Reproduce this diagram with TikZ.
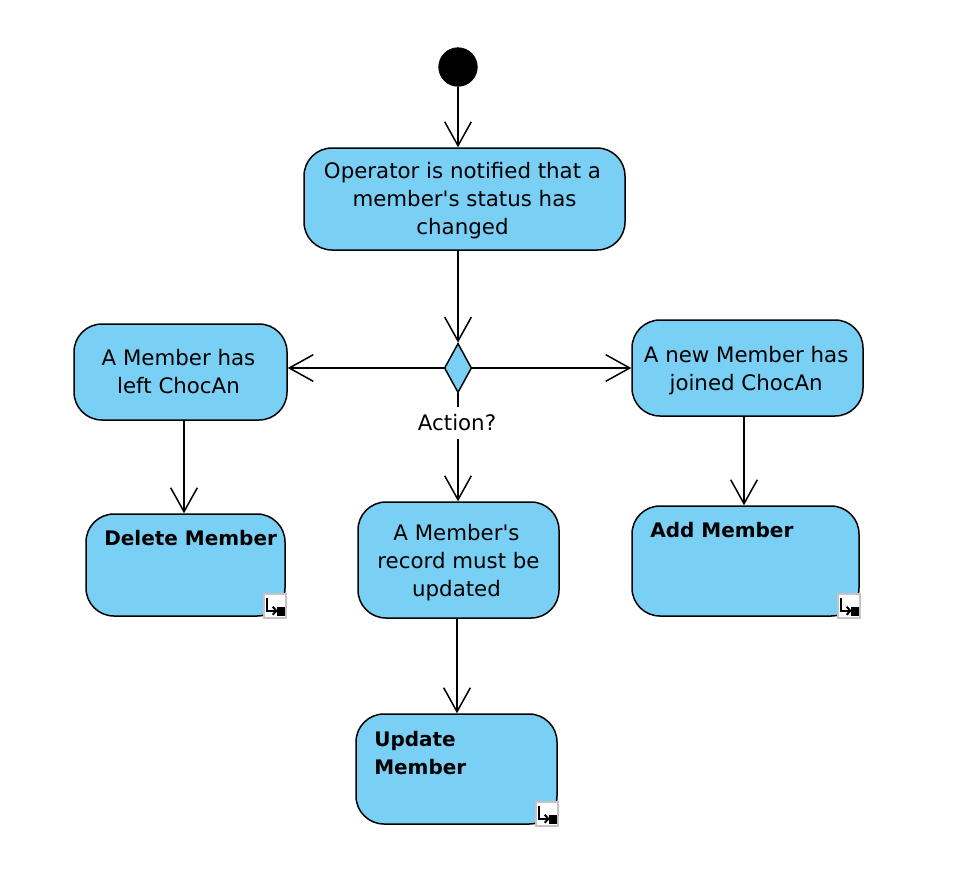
\documentclass[tikz,border=0pt]{standalone}
\usepackage{fontspec}
\setmainfont{DejaVu Sans}
\usetikzlibrary{arrows.meta,shapes.geometric}
\definecolor{actblue}{HTML}{7ACFF5}
\definecolor{icongray}{HTML}{C4C4C4}
\newcommand{\sft}{\hspace*{3pt}}
\newcommand{\sfr}{\hspace*{2pt}}
\tikzset{
  act/.style={draw=black,fill=actblue,line width=1.5pt*0.75,rounded corners=21pt,inner sep=0pt,font=\fontsize{16}{21}\selectfont,align=center},
  title/.style={font=\fontsize{15}{21}\selectfont\bfseries,align=left,inner sep=0pt},
  flow/.style={draw=black,line width=1.5pt*0.75,-{Straight Barb[length=18pt,width=20pt,line width=1.5pt*0.75]}},
  iconbox/.style={draw=icongray,fill=white,line width=1.5pt}
}
\newcommand{\subicon}[1]{%
  \begin{scope}[shift={(#1)}]
    \draw[iconbox] (-22,-23) rectangle (0.5,1);
    \draw[black,line width=1.5pt] (-18.5,-19) -- (-18.5,-6) -- (-9,-6);
    \draw[black,line width=1.5pt] (-13,-10) -- (-9.5,-6) -- (-13,-2);
    \fill[black] (-9,-10) rectangle (-1,-1);
  \end{scope}}
\begin{document}
\begin{tikzpicture}[x=0.75pt,y=-0.75pt]
\useasboundingbox (0,0) rectangle (978,890);
\node[circle,fill=black,draw=black,minimum size=29pt,inner sep=0pt] (start) at (458,67) {};
\node[act,minimum width=240.75pt,minimum height=76.5pt] (op) at (464.5,199) {\rule{0pt}{15.2pt}Operator is notified that a\sft\\member\textquotesingle s status has\sft\\changed\sft};
\node[diamond,draw=black,fill=actblue,line width=1.5pt*0.75,aspect=0.56,minimum width=20.5pt,minimum height=37pt,inner sep=0pt] (dia) at (458,368) {};
\node[act,minimum width=159.75pt,minimum height=72pt] (left) at (180.5,372) {A Member has\sft\\left ChocAn\sft};
\node[act,minimum width=173.25pt,minimum height=72pt] (right) at (747.5,368) {\rule{0pt}{16.7pt}A new Member has\sfr\\joined ChocAn\sfr};
\node[act,minimum width=150.75pt,minimum height=87pt] (rec) at (458.5,560) {\rule{0pt}{16.7pt}A Member\textquotesingle s\sft\\record must be\sft\\updated\sft};
\node[act,minimum width=149.25pt,minimum height=76.5pt] (del) at (185.5,565) {};
\node[act,minimum width=170.25pt,minimum height=82.5pt] (add) at (745.5,561) {};
\node[act,minimum width=150.75pt,minimum height=82.5pt] (upd) at (456.5,769) {};
\node[title,anchor=west] (deltitle) at (104,538) {Delete Member};
\node[title,anchor=west] (addtitle) at (650,530) {Add Member};
\node[title,anchor=north west] (updtitle) at (374,731) {Update\\Member};
\subicon{del.south east}
\subicon{add.south east}
\subicon{upd.south east}
\draw[flow] (start.south) -- (start.south |- op.north);
\draw[flow] (op.south -| dia.north) -- (dia.north);
\draw[flow] (dia.west) -- (dia.west -| left.east);
\draw[flow] (dia.east) -- (dia.east -| right.west);
\draw[line width=1.5pt*0.75] (dia.south) -- ++(0,14);
\draw[flow] (dia.south) ++(0,46) -- (dia.south |- rec.north);
\node[font=\fontsize{16}{21}\selectfont,inner sep=0pt] (action) at (457,423) {Action?};
\draw[flow] ([xshift=3.5*0.75pt]left.south) -- ([xshift=3.5*0.75pt]left.south |- del.north);
\draw[flow] ([xshift=-3.5*0.75pt]right.south) -- ([xshift=-3.5*0.75pt]right.south |- add.north);
\draw[flow] ([xshift=-1.5*0.75pt]rec.south) -- ([xshift=-1.5*0.75pt]rec.south |- upd.north);
\end{tikzpicture}
\end{document}
